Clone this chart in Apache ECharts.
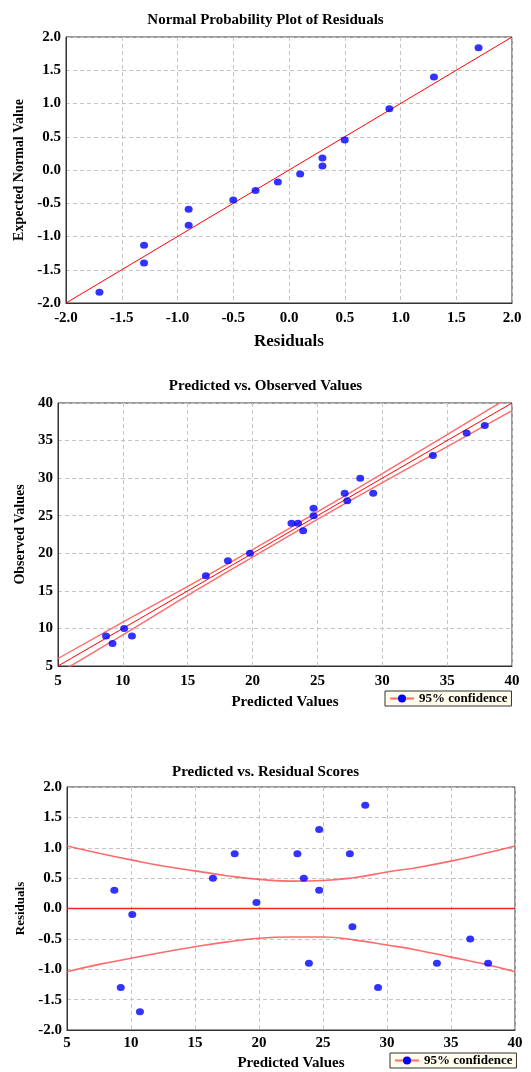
<!DOCTYPE html>
<html>
<head>
<meta charset="utf-8">
<script src="https://cdn.jsdelivr.net/npm/echarts@6/dist/echarts.min.js"></script>
<style>
  html, body { margin: 0; padding: 0; background: #fff; }
  #main { width: 531px; height: 1072px; }
</style>
</head>
<body>
<div id="main"></div>
<script>
// plot 1: normal probability plot
const normResiduals = [-1.7, -1.3, -1.3, -0.9, -0.9, -0.5, -0.3, -0.1, 0.1, 0.3, 0.3, 0.5, 0.9, 1.3, 1.7];
const normExpected = [-1.84, -1.40, -1.13, -0.83, -0.59, -0.45, -0.31, -0.18, -0.06, 0.06, 0.18, 0.45, 0.92, 1.40, 1.84];
const normLineX = [-2, 2];
const normLineY = [-2, 2];

// plot 2: predicted vs observed
const predicted = [8.7, 9.2, 10.1, 10.7, 16.4, 18.1, 19.8, 23.0, 23.5, 23.9, 24.7, 24.7, 27.1, 27.3, 28.3, 29.3, 33.9, 36.5, 37.9];
const observed = [9, 8, 10, 9, 17, 19, 20, 24, 24, 23, 26, 25, 28, 27, 30, 28, 33, 36, 37];
const fitX = [5, 40];
const fitY = [5, 40];
const bandX = [5, 10, 15, 20, 25, 30, 35, 40];
const obsUpper = [6.0, 10.85, 15.6, 20.5, 25.5, 30.6, 35.8, 41.0];
const obsLower = [4.0, 9.15, 14.4, 19.5, 24.5, 29.4, 34.2, 39.0];

// plot 3: predicted vs residuals
const residuals = [0.3, -1.3, -0.1, -1.7, 0.5, 0.9, 0.1, 0.9, 0.5, -0.9, 1.3, 0.3, 0.9, -0.3, 1.7, -1.3, -0.9, -0.5, -0.9];
const resBandX = [5, 7.5, 10, 12.5, 15, 17.5, 20, 22.5, 25, 27.5, 30, 32.5, 35, 37.5, 40];
const resUpper = [1.03, 0.91, 0.80, 0.70, 0.62, 0.54, 0.48, 0.45, 0.46, 0.51, 0.60, 0.68, 0.78, 0.90, 1.03];
const resLower = [-1.04, -0.92, -0.82, -0.72, -0.63, -0.55, -0.49, -0.47, -0.47, -0.52, -0.60, -0.69, -0.80, -0.91, -1.04];
const zeroX = [5, 40];
const zeroY = [0, 0];

const zip = (a, b) => a.map((v, i) => [v, b[i]]);

const FONT = "'Liberation Serif', 'DejaVu Serif', serif";
const labelStyle = { fontFamily: FONT, fontWeight: 'bold', fontSize: 15, color: '#000' };
const nameStyle = { fontFamily: FONT, fontWeight: 'bold', color: '#000' };
const named = size => Object.assign({ fontSize: size }, nameStyle);

function axis(grid, min, max, interval, digits, margin, extra) {
  return Object.assign({
    type: 'value',
    gridIndex: grid,
    min: min,
    max: max,
    interval: interval,
    nameLocation: 'middle',
    axisLine: { show: true, onZero: false, lineStyle: { color: '#333', width: 1 } },
    axisTick: { show: false },
    axisLabel: Object.assign({ formatter: v => v.toFixed(digits), margin: margin }, labelStyle),
    splitLine: { show: true, lineStyle: { color: '#c4c4c4', type: [4, 3] } },
  }, extra);
}

const dots = { color: '#0000ff' };
const bandStyle = { color: '#ff5050', width: 1.6, opacity: 0.85 };

function legendAt(left, top) {
  return {
    data: ['95% confidence'], left: left, top: top,
    backgroundColor: '#fffcec', borderColor: '#333', borderWidth: 1, borderRadius: 0,
    padding: [1, 4], itemWidth: 24, itemHeight: 10, itemGap: 4,
    textStyle: named(13),
  };
}

const option = {
  backgroundColor: '#fff',
  animation: false,
  title: [
    { text: 'Normal Probability Plot of Residuals', left: 'center', top: 8, textStyle: named(15) },
    { text: 'Predicted vs. Observed Values', left: 'center', top: 374, textStyle: named(15) },
    { text: 'Predicted vs. Residual Scores', left: 'center', top: 760, textStyle: named(15) },
  ],
  legend: [legendAt(385, 691), legendAt(390, 1053)],
  grid: [
    { left: 66, top: 37, width: 446, height: 266, show: true, borderColor: '#333', borderWidth: 1 },
    { left: 58, top: 403, width: 454, height: 263, show: true, borderColor: '#333', borderWidth: 1 },
    { left: 67, top: 787, width: 448, height: 245, show: true, borderColor: '#333', borderWidth: 1 },
  ],
  xAxis: [
    axis(0, -2, 2, 0.5, 1, 8, { name: 'Residuals', nameGap: 30, nameTextStyle: named(17) }),
    axis(1, 5, 40, 5, 0, 8, { name: 'Predicted Values', nameGap: 29, nameTextStyle: named(15) }),
    axis(2, 5, 40, 5, 0, 6, { name: 'Predicted Values', nameGap: 26, nameTextStyle: named(15) }),
  ],
  yAxis: [
    axis(0, -2, 2, 0.5, 1, 5, { name: 'Expected Normal Value', nameGap: 38, nameTextStyle: named(14) }),
    axis(1, 5, 40, 5, 0, 5, { name: 'Observed Values', nameGap: 27, nameTextStyle: named(14) }),
    axis(2, -2, 2, 0.5, 1, 5, { name: 'Residuals', nameGap: 38, nameTextStyle: named(13) }),
  ],
  series: [
    // plot 1
    { type: 'line', xAxisIndex: 0, yAxisIndex: 0, data: zip(normLineX, normLineY), symbol: 'none', lineStyle: { color: '#ff0000', width: 1 }, z: 2 },
    { type: 'scatter', xAxisIndex: 0, yAxisIndex: 0, data: zip(normResiduals, normExpected), symbolSize: [8, 7], itemStyle: dots, z: 3 },
    // plot 2
    { type: 'line', xAxisIndex: 1, yAxisIndex: 1, data: zip(fitX, fitY), symbol: 'none', lineStyle: { color: '#ff0000', width: 1 }, z: 2 },
    { name: '95% confidence', type: 'line', xAxisIndex: 1, yAxisIndex: 1, data: zip(bandX, obsUpper), smooth: true, symbol: 'circle', symbolSize: 8, showSymbol: false, itemStyle: dots, lineStyle: { color: '#ff6a6a', width: 1.4 }, clip: true, z: 2 },
    { name: '95% confidence', type: 'line', xAxisIndex: 1, yAxisIndex: 1, data: zip(bandX, obsLower), smooth: true, symbol: 'circle', symbolSize: 8, showSymbol: false, itemStyle: dots, lineStyle: { color: '#ff6a6a', width: 1.4 }, clip: true, z: 2 },
    { type: 'scatter', xAxisIndex: 1, yAxisIndex: 1, data: zip(predicted, observed), symbolSize: [8, 7], itemStyle: dots, z: 3 },
    // plot 3
    { type: 'line', xAxisIndex: 2, yAxisIndex: 2, data: zip(zeroX, zeroY), symbol: 'none', lineStyle: { color: '#ff2020', width: 1.5 }, z: 2 },
    { name: '95% confidence', type: 'line', xAxisIndex: 2, yAxisIndex: 2, data: zip(resBandX, resUpper), smooth: true, symbol: 'circle', symbolSize: 8, showSymbol: false, itemStyle: dots, lineStyle: bandStyle, z: 2 },
    { name: '95% confidence', type: 'line', xAxisIndex: 2, yAxisIndex: 2, data: zip(resBandX, resLower), smooth: true, symbol: 'circle', symbolSize: 8, showSymbol: false, itemStyle: dots, lineStyle: bandStyle, z: 2 },
    { type: 'scatter', xAxisIndex: 2, yAxisIndex: 2, data: zip(predicted, residuals), symbolSize: [8, 7], itemStyle: dots, z: 3 },
  ],
};

const chart = echarts.init(document.getElementById('main'));
chart.setOption(option);
</script>
</body>
</html>
